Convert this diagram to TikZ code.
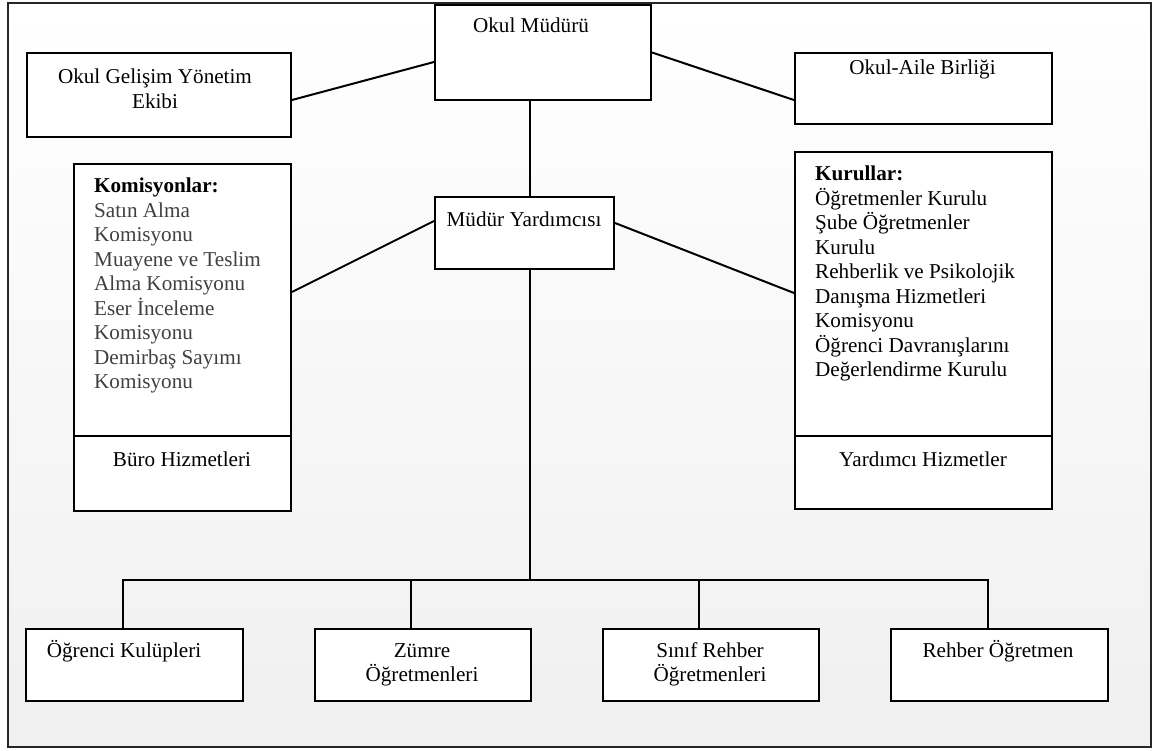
\documentclass[tikz,border=0pt]{standalone}
\usepackage{fontspec}
\setmainfont{Liberation Serif}
\newcommand\mycl[1]{\hbox to 0pt{\hss#1\hss}}
\newcommand\myll[1]{\hbox{#1}}
\newcommand\mygl[1]{\hbox{\color{black!75}#1}}
\begin{document}
\begin{tikzpicture}[x=1pt,y=-1pt,
  box/.style={draw=black, fill=white, line width=2pt, inner sep=0pt, anchor=north west},
  lbl/.style={inner sep=0pt, anchor=base, font=\fontsize{21.15}{24.5}\selectfont},
  lst/.style={inner sep=0pt, anchor=base west, font=\fontsize{21.15}{24.5}\selectfont},
  link/.style={line width=2pt, draw=black}]
\useasboundingbox (0,0) rectangle (1158,751);
\fill[white] (0,0) rectangle (1158,751);
\shade[top color=white, bottom color=black!6] (8,3) rectangle (1151,747);
\draw[line width=2.6pt, draw=black!85] (8,3) rectangle (1151,747);

% boxes
\node[box, minimum width=216pt, minimum height=95pt] (mudur) at (434,4) {};
\node[box, minimum width=264pt, minimum height=84pt] (ogye) at (26,52) {};
\node[box, minimum width=257pt, minimum height=71pt] (oab) at (794,52) {};
\node[box, minimum width=179pt, minimum height=72pt] (my) at (434,196) {};
\node[box, minimum width=217pt, minimum height=347pt] (kom) at (73,163) {};
\node[box, minimum width=257pt, minimum height=357pt] (kur) at (794,151) {};
\node[box, minimum width=217pt, minimum height=72pt] (b1) at (25,628) {};
\node[box, minimum width=216pt, minimum height=72pt] (b2) at (314,628) {};
\node[box, minimum width=216pt, minimum height=72pt] (b3) at (602,628) {};
\node[box, minimum width=217pt, minimum height=72pt] (b4) at (890,628) {};

% dividers
\coordinate (div) at (0,436);
\draw[link] (kom.west |- div) -- (kom.east |- div);
\draw[link] (kur.west |- div) -- (kur.east |- div);

% texts
\node[lbl] (mudurT) at (531,33) {Okul Müdürü};
\node[lbl] (ogyeT) at (155,84) {\vtop{\mycl{Okul Gelişim Yönetim}\mycl{Ekibi}}};
\node[lbl] (oabT) at (922.5,75) {Okul-Aile Birliği};
\node[lbl] (myT) at (524,226) {Müdür Yardımcısı};
\node[lst] (komT) at (94,193) {\vtop{\myll{\textbf{Komisyonlar:}}\mygl{Satın Alma}\mygl{Komisyonu}\mygl{Muayene ve Teslim}\mygl{Alma Komisyonu}\mygl{Eser İnceleme}\mygl{Komisyonu}\mygl{Demirbaş Sayımı}\mygl{Komisyonu}}};
\node[lbl] (buroT) at (182,466) {Büro Hizmetleri};
\node[lst] (kurT) at (815,181) {\vtop{\myll{\textbf{Kurullar:}}\myll{Öğretmenler Kurulu}\myll{Şube Öğretmenler}\myll{Kurulu}\myll{Rehberlik ve Psikolojik}\myll{Danışma Hizmetleri}\myll{Komisyonu}\myll{Öğrenci Davranışlarını}\myll{Değerlendirme Kurulu}}};
\node[lbl] (yardT) at (923,466) {Yardımcı Hizmetler};
\node[lbl] (b1T) at (124,657) {Öğrenci Kulüpleri};
\node[lbl] (b2T) at (422,657) {\vtop{\mycl{Zümre}\mycl{Öğretmenleri}}};
\node[lbl] (b3T) at (710,657) {\vtop{\mycl{Sınıf Rehber}\mycl{Öğretmenleri}}};
\node[lbl] (b4T) at (998,657) {Rehber Öğretmen};

% connectors
\draw[link] ([yshift=-5pt]ogye.east) -- ([yshift=-9.5pt]mudur.west);
\draw[link] (mudur.east) -- ([yshift=-11.5pt]oab.west);
\draw[link] ([yshift=45.5pt]kom.east) -- ([yshift=12pt]my.west);
\draw[link] ([yshift=10pt]my.east) -- ([yshift=37.5pt]kur.west);

\coordinate (spine) at (530,580);
\draw[link] (mudur.south -| spine) -- (my.north -| spine);
\draw[link] (my.south -| spine) -- (spine);
\coordinate (d1) at ([xshift=-12pt]b1.north);
\coordinate (d2) at ([xshift=-12pt]b2.north);
\coordinate (d3) at ([xshift=-12pt]b3.north);
\coordinate (d4) at ([xshift=-12pt]b4.north);
\draw[link] (d1) |- (d4 |- spine) -- (d4);
\draw[link] (d2) -- (d2 |- spine);
\draw[link] (d3) -- (d3 |- spine);
\end{tikzpicture}
\end{document}
